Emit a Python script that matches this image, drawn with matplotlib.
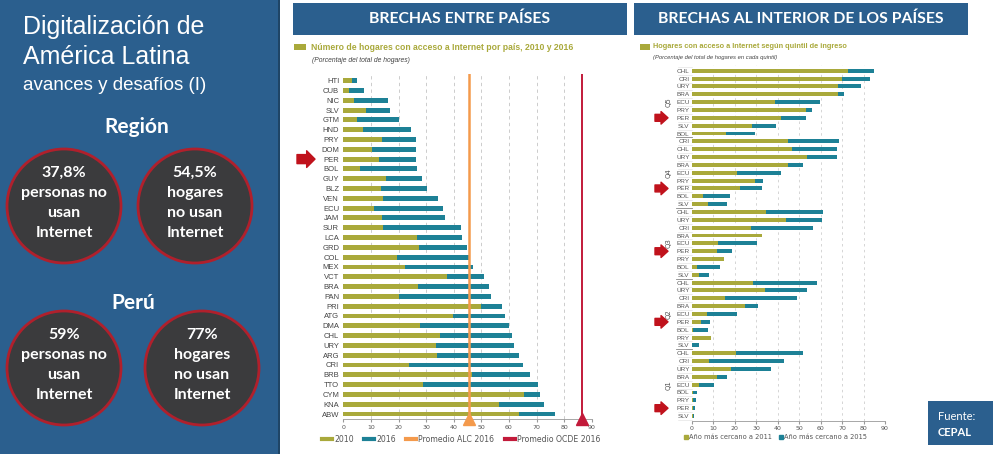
import matplotlib
matplotlib.use('Agg')
import matplotlib.pyplot as plt
import matplotlib.transforms as mtrans
from matplotlib.patches import Rectangle, Ellipse
from matplotlib.lines import Line2D
import numpy as np

# ---- data: brechas entre paises (% hogares con acceso a Internet) ----
countries = ['HTI', 'CUB', 'NIC', 'SLV', 'GTM', 'HND', 'PRY', 'DOM', 'PER', 'BOL',
             'GUY', 'BLZ', 'VEN', 'ECU', 'JAM', 'SUR', 'LCA', 'GRD', 'COL', 'MEX',
             'VCT', 'BRA', 'PAN', 'PRI', 'ATG', 'DMA', 'CHL', 'URY', 'ARG', 'CRI',
             'BRB', 'TTO', 'CYM', 'KNA', 'ABW']
val_2010 = [3.0, 1.9, 3.9, 8.2, 5.1, 7.1, 14.0, 10.3, 13.0, 6.0,
            15.5, 13.5, 14.5, 11.2, 13.9, 14.5, 26.6, 27.5, 19.3, 22.3,
            37.4, 27.2, 20.3, 50.0, 39.9, 27.8, 35.0, 33.6, 34.1, 23.9,
            46.6, 28.7, 65.5, 56.3, 63.5]
val_2016 = [5.0, 7.6, 16.1, 17.1, 20.3, 24.5, 26.2, 26.2, 26.2, 26.7,
            28.4, 30.3, 34.2, 36.2, 36.7, 42.6, 43.1, 44.7, 45.7, 46.9,
            51.1, 52.8, 53.6, 57.4, 58.6, 60.1, 61.2, 61.7, 63.8, 65.0,
            67.5, 70.7, 71.3, 72.8, 76.7]
prom_alc = 45.7
prom_ocde = 86.6

# ---- data: brechas al interior (por quintil de ingreso) ----
q_names = ['Q5', 'Q4', 'Q3', 'Q2', 'Q1']
q5_countries = ['CHL', 'CRI', 'URY', 'BRA', 'ECU', 'PRY', 'PER', 'SLV', 'BOL']
q5_2011 = [72.7, 70.2, 67.9, 67.9, 38.8, 53.3, 41.6, 28.0, 16.0]
q5_2015 = [85.1, 83.1, 78.7, 71.1, 59.8, 55.9, 53.0, 39.1, 29.3]
q4_countries = ['CRI', 'CHL', 'URY', 'BRA', 'ECU', 'PRY', 'PER', 'BOL', 'SLV']
q4_2011 = [45.0, 46.7, 53.6, 44.7, 21.0, 29.5, 22.5, 5.1, 7.8]
q4_2015 = [68.5, 67.7, 67.7, 51.7, 41.5, 33.1, 32.6, 17.7, 16.6]
q3_countries = ['CHL', 'URY', 'CRI', 'BRA', 'ECU', 'PER', 'PRY', 'BOL', 'SLV']
q3_2011 = [34.6, 43.8, 27.5, 32.6, 12.4, 11.6, 14.9, 2.6, 3.4]
q3_2015 = [61.3, 60.6, 56.7, 32.6, 30.4, 18.9, 14.9, 13.4, 7.9]
q2_countries = ['CHL', 'URY', 'CRI', 'BRA', 'ECU', 'PER', 'BOL', 'PRY', 'SLV']
q2_2011 = [28.7, 34.3, 15.5, 24.8, 7.0, 4.3, 0.5, 8.9, 0.3]
q2_2015 = [58.2, 53.7, 49.1, 30.7, 21.0, 8.5, 7.5, 8.9, 3.6]
q1_countries = ['CHL', 'CRI', 'URY', 'BRA', 'ECU', 'BOL', 'PRY', 'PER', 'SLV']
q1_2011 = [20.7, 8.2, 18.3, 12.0, 3.6, 0.8, 0.8, 0.8, 0.5]
q1_2015 = [52.0, 43.0, 36.8, 16.3, 10.2, 2.5, 2.2, 1.7, 1.0]

OLIVE = '#a9a93b'
TEAL = '#1d8196'
BLUE = '#2b5f8e'
ARROW = '#c0121c'

fig = plt.figure(figsize=(10, 4.54), dpi=100)
fig.patch.set_facecolor('white')

# ---------------- left panel ----------------
fig.add_artist(Rectangle((0, 0), 0.279, 1, transform=fig.transFigure,
                         facecolor=BLUE, edgecolor='none', zorder=0))
fig.add_artist(Rectangle((0.278, 0), 0.002, 1, transform=fig.transFigure,
                         facecolor='#1f4566', edgecolor='none', zorder=0))

def ftxt(x, y, s, **kw):
    # x, y in pixels from top-left
    fig.text(x / 1000, 1 - y / 454, s, **kw)

ftxt(23, 27, 'Digitalización de', color='white', fontsize=18,
     family='Liberation Sans', va='center', ha='left')
ftxt(23, 57, 'América Latina', color='white', fontsize=18,
     family='Liberation Sans', va='center', ha='left')
ftxt(23, 85, 'avances y desafíos (I)', color='white', fontsize=13.5,
     family='Liberation Sans', va='center', ha='left')
ftxt(137, 127, 'Región', color='white', fontsize=15, family='Lato',
     weight='bold', va='center', ha='center')
ftxt(133, 303, 'Perú', color='white', fontsize=15, family='Lato',
     weight='bold', va='center', ha='center')

circles = [(64, 206, ['37,8%', 'personas no', 'usan', 'Internet']),
           (195, 206, ['54,5%', 'hogares', 'no usan', 'Internet']),
           (64, 368, ['59%', 'personas no', 'usan', 'Internet']),
           (202, 368, ['77%', 'hogares', 'no usan', 'Internet'])]
for cx, cy, lines in circles:
    r = 57
    fig.add_artist(Ellipse((cx / 1000, 1 - cy / 454), 2 * r / 1000, 2 * r / 454,
                           transform=fig.transFigure, facecolor='#3b3b3d',
                           edgecolor='#b0202c', lw=2, zorder=1))
    for i, ln in enumerate(lines):
        ftxt(cx, cy - 33 + i * 20, ln, color='white', fontsize=11.5,
             family='Lato', weight='bold', ha='center', va='center', zorder=2)

# ---------------- header boxes ----------------
fig.add_artist(Rectangle((0.293, 1 - 35 / 454), 0.334, 32 / 454,
                         transform=fig.transFigure, facecolor=BLUE, edgecolor='none'))
ftxt(460, 19, 'BRECHAS ENTRE PAÍSES', color='white', fontsize=11.3,
     family='Lato', weight='bold', ha='center', va='center')
fig.add_artist(Rectangle((0.634, 1 - 35 / 454), 0.334, 32 / 454,
                         transform=fig.transFigure, facecolor=BLUE, edgecolor='none'))
ftxt(801, 19, 'BRECHAS AL INTERIOR DE LOS PAÍSES', color='white', fontsize=11.3,
     family='Lato', weight='bold', ha='center', va='center')

# Fuente box
fig.add_artist(Rectangle((0.928, 1 - 445 / 454), 0.065, 44 / 454,
                         transform=fig.transFigure, facecolor=BLUE, edgecolor='none'))
ftxt(938, 416, 'Fuente:', color='white', fontsize=8, family='Lato', ha='left', va='center')
ftxt(938, 432, 'CEPAL', color='white', fontsize=8, family='Lato', weight='bold',
     ha='left', va='center')

# ---------------- middle chart ----------------
fig.add_artist(Rectangle((0.294, 1 - 50 / 454), 0.012, 6 / 454,
                         transform=fig.transFigure, facecolor=OLIVE, edgecolor='none'))
ftxt(311, 47, 'Número de hogares con acceso a Internet por país, 2010 y 2016',
     color=OLIVE, fontsize=6.2, weight='bold', family='Liberation Sans', va='center')
ftxt(312, 61, '(Porcentaje del total de hogares)', color='#444444', fontsize=4.9,
     style='italic', family='Liberation Sans', va='center')

ax1 = fig.add_axes([0.3433, 0.0764, 0.2484, 0.7606])
y1 = np.arange(len(countries))
ax1.barh(y1, val_2016, height=0.5, color=TEAL, zorder=2)
ax1.barh(y1, val_2010, height=0.5, color=OLIVE, zorder=3)
ax1.set_ylim(34.54, -0.68)
ax1.set_xlim(0, 90)
ax1.set_yticks(y1)
ax1.set_yticklabels(countries, fontsize=5.5, color='#444444', family='Liberation Sans')
ax1.set_xticks(np.arange(0, 100, 10))
ax1.tick_params(axis='x', labelsize=4.5, labelcolor='#555555', length=2,
                color='#999999', pad=2)
ax1.tick_params(axis='y', length=0, pad=3)
for s in ['top', 'right', 'left']:
    ax1.spines[s].set_visible(False)
ax1.spines['bottom'].set_color('#999999')
ax1.spines['bottom'].set_linewidth(0.6)
for xv in range(10, 100, 10):
    ax1.axvline(xv, color='#c4c4c4', lw=0.6, ls=(0, (4, 4)), zorder=1)
ax1.axvline(prom_alc, color='#f49a4c', lw=1.8, zorder=4)
ax1.axvline(prom_ocde, color='#c21a3a', lw=1.4, zorder=4)
ax1.plot([prom_alc], [34.54], marker='^', ms=8, color='#f49a4c', zorder=5, clip_on=False)
ax1.plot([prom_ocde], [34.54], marker='^', ms=8, color='#c21a3a', zorder=5, clip_on=False)

handles = [Line2D([], [], color=OLIVE, lw=3), Line2D([], [], color=TEAL, lw=3),
           Line2D([], [], color='#f49a4c', lw=3), Line2D([], [], color='#c21a3a', lw=3)]
fig.legend(handles, ['2010', '2016', 'Promedio ALC 2016', 'Promedio OCDE 2016'],
           loc='center', bbox_to_anchor=(0.461, 1 - 439 / 454), ncol=4, frameon=False,
           fontsize=5.6, handlelength=1.3, handletextpad=0.3, columnspacing=1.3,
           labelcolor='#555555')

ax1.annotate('', xy=(0.315, countries.index('PER')), xytext=(0.297, countries.index('PER')),
             xycoords=('figure fraction', 'data'), textcoords=('figure fraction', 'data'),
             arrowprops=dict(arrowstyle='simple,head_length=0.6,head_width=1.2,tail_width=0.65',
                             color=ARROW, shrinkA=0, shrinkB=0), annotation_clip=False)

# ---------------- right chart ----------------
fig.add_artist(Rectangle((0.640, 1 - 50 / 454), 0.010, 6 / 454,
                         transform=fig.transFigure, facecolor=OLIVE, edgecolor='none'))
ftxt(653, 47, 'Hogares con acceso a Internet según quintil de ingreso',
     color=OLIVE, fontsize=5.3, weight='bold', family='Liberation Sans', va='center')
ftxt(653, 58, '(Porcentaje del total de hogares en cada quintil)', color='#444444',
     fontsize=4.2, style='italic', family='Liberation Sans', va='center')

groups = [(q5_countries, q5_2011, q5_2015), (q4_countries, q4_2011, q4_2015),
          (q3_countries, q3_2011, q3_2015), (q2_countries, q2_2011, q2_2015),
          (q1_countries, q1_2011, q1_2015)]
labels_r, v11, v15 = [], [], []
for c, a, b in groups:
    labels_r += c
    v11 += a
    v15 += b

ax2 = fig.add_axes([0.6917, 0.0733, 0.1933, 0.7835])
y2 = np.arange(len(labels_r))
ax2.barh(y2, v15, height=0.5, color=TEAL, zorder=2)
ax2.barh(y2, v11, height=0.5, color=OLIVE, zorder=3)
ax2.set_ylim(44.6, -0.73)
ax2.set_xlim(0, 90)
ax2.set_yticks(y2)
ax2.set_yticklabels(labels_r, fontsize=4.6, color='#555555', family='Liberation Sans')
ax2.set_xticks(np.arange(0, 100, 10))
ax2.tick_params(axis='x', labelsize=4.5, labelcolor='#555555', length=2,
                color='#999999', pad=2)
ax2.tick_params(axis='y', length=0, pad=1.5)
for s in ['top', 'right', 'left']:
    ax2.spines[s].set_visible(False)
ax2.spines['bottom'].set_color('#999999')
ax2.spines['bottom'].set_linewidth(0.6)
for xv in range(10, 100, 10):
    ax2.axvline(xv, color='#cfcfcf', lw=0.6, ls=(0, (3, 4)), zorder=1)

# label cells, group separators and quintile names
bt = mtrans.blended_transform_factory(fig.transFigure, ax2.transData)
for yy in np.arange(-0.5, 45, 1):
    ax2.plot([0.678, 0.6917], [yy, yy], color='#dddddd', lw=0.4, transform=bt,
             clip_on=False)
for gi, name in enumerate(q_names):
    ax2.text(0.669, gi * 9 + 4, name, transform=bt, rotation=90, fontsize=5,
             color='#555555', ha='center', va='center')
    if gi > 0:
        ax2.plot([0.676, 0.6917], [gi * 9 - 0.5, gi * 9 - 0.5], color='#888888',
                 lw=0.6, transform=bt, clip_on=False)
    per_row = gi * 9 + groups[gi][0].index('PER')
    ax2.annotate('', xy=(0.668, per_row), xytext=(0.655, per_row),
                 xycoords=('figure fraction', 'data'), textcoords=('figure fraction', 'data'),
                 arrowprops=dict(arrowstyle='simple,head_length=0.5,head_width=0.9,tail_width=0.5',
                                 color=ARROW, shrinkA=0, shrinkB=0), annotation_clip=False)

h2 = [Line2D([], [], color=OLIVE, marker='s', ms=2.5, lw=0),
      Line2D([], [], color=TEAL, marker='s', ms=2.5, lw=0)]
fig.legend(h2, ['Año más cercano a 2011', 'Año más cercano a 2015'], loc='center',
           bbox_to_anchor=(0.776, 1 - 437 / 454), ncol=2, frameon=False, fontsize=4.8,
           handlelength=0.4, handletextpad=0.2, columnspacing=1.2, labelcolor='#555555')

fig.savefig('out.png', dpi=100)
